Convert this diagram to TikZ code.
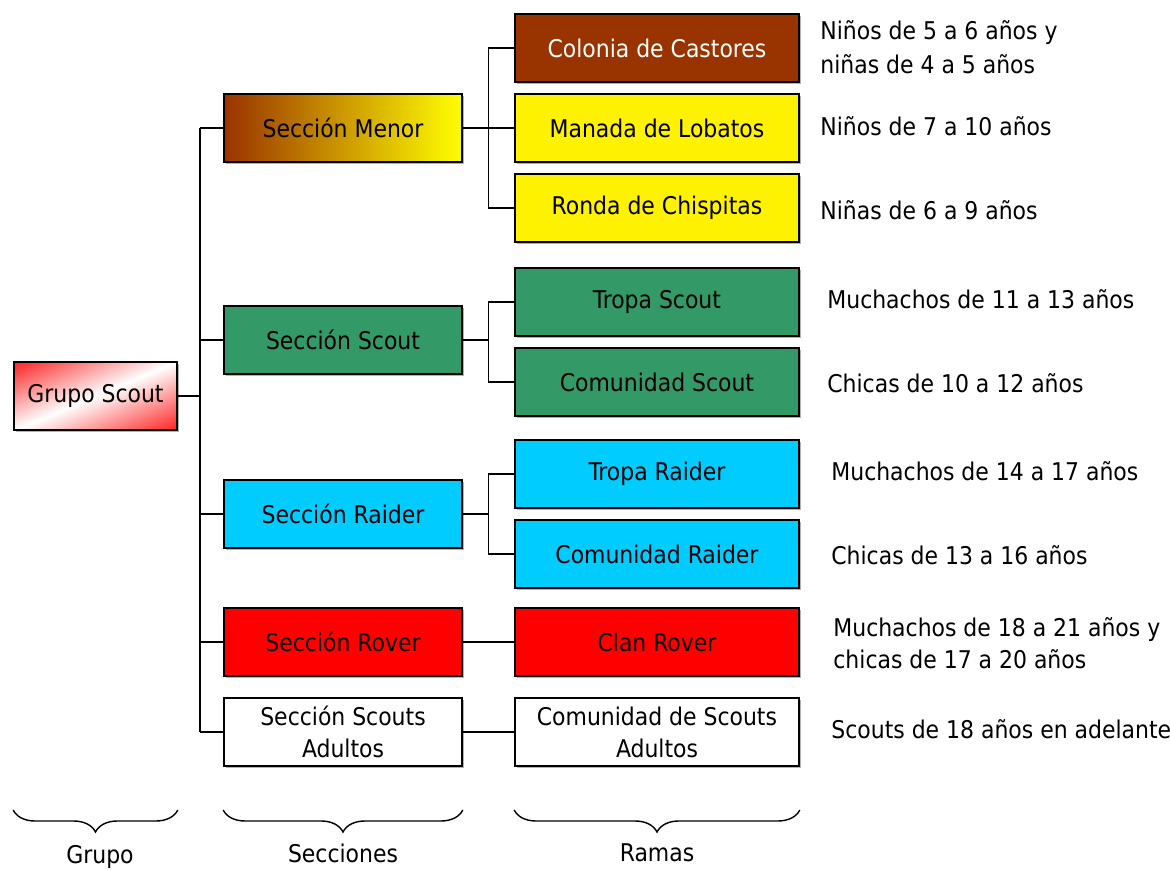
\documentclass[tikz,border=0pt]{standalone}
\usepackage{fontspec}
\setmainfont{DejaVu Sans Condensed}
\usetikzlibrary{positioning,calc,decorations.pathreplacing,shadows}

\definecolor{castor}{RGB}{153,51,0}
\definecolor{verde}{RGB}{51,153,102}
\definecolor{celeste}{RGB}{0,204,255}
\pgfdeclarehorizontalshading{grupofade}{100bp}{color(0bp)=(red); color(12bp)=(red); color(50bp)=(white); color(88bp)=(red); color(100bp)=(red)}

\tikzset{
  caja/.style={draw=black, line width=0.8pt, rectangle, minimum height=34pt, inner sep=2pt, align=center,
    drop shadow={shadow xshift=1pt, shadow yshift=-1pt, fill=gray!60, opacity=1}},
  seccion/.style={caja, minimum width=119pt},
  rama/.style={caja, minimum width=142pt},
  edad/.style={anchor=west, align=left, inner sep=0pt},
  linea/.style={line width=0.7pt},
  llave/.style={decorate, decoration={brace, mirror, amplitude=11pt}, line width=0.7pt},
}

\begin{document}
\begin{tikzpicture}[x=0.5pt, y=-0.5pt, font=\fontsize{12.2}{16}\selectfont]
        \useasboundingbox (0,0) rectangle (1170,870);

        % grupo
        \node[caja, minimum width=81.5pt, shading=grupofade, shading angle=-67] (grupo) at (95.5,396) {Grupo Scout};

        % secciones
        \node[seccion, left color=castor, right color=yellow] (menor) at (343,128) {Sección Menor};
        \node[seccion, fill=verde] (scout) at (343,340) {Sección Scout};
        \node[seccion, fill=celeste] (raider) at (343,514) {Sección Raider};
        \node[seccion, fill=red] (rover) at (343,642) {Sección Rover};
        \node[seccion, fill=white] (adultos) at (343,732) {Sección Scouts\\Adultos};

        % ramas
        \node[rama, fill=castor, text=white] (castores) at (657,48) {Colonia de Castores};
        \node[rama, fill=yellow] (lobatos) at (657,128) {Manada de Lobatos};
        \node[rama, fill=yellow] (chispitas) at (657,208) {Ronda de Chispitas};
        \node[rama, fill=verde] (tropascout) at (657,302) {Tropa Scout};
        \node[rama, fill=verde] (comscout) at (657,382) {Comunidad Scout};
        \node[rama, fill=celeste] (tropraider) at (657,474) {Tropa Raider};
        \node[rama, fill=celeste] (comraider) at (657,554) {Comunidad Raider};
        \node[rama, fill=red] (clan) at (657,642) {Clan Rover};
        \node[rama, fill=white] (comadultos) at (657,732) {Comunidad de Scouts\\Adultos};

        % edades
        \node[edad, font=\fontsize{12.2}{17}\selectfont] (ecastores) at (820,47) {Niños de 5 a 6 años y\\niñas de 4 a 5 años};
        \node[edad] (elobatos) at (820,126) {Niños de 7 a 10 años};
        \node[edad] (echispitas) at (820,210) {Niñas de 6 a 9 años};
        \node[edad] (etropascout) at (827,299) {Muchachos de 11 a 13 años};
        \node[edad] (ecomscout) at (827,383) {Chicas de 10 a 12 años};
        \node[edad] (etropraider) at (831,471) {Muchachos de 14 a 17 años};
        \node[edad] (ecomraider) at (831,555) {Chicas de 13 a 16 años};
        \node[edad] (eclan) at (833,643) {Muchachos de 18 a 21 años y\\chicas de 17 a 20 años};
        \node[edad] (ecomadultos) at (831,729) {Scouts de 18 años en adelante};

        % conectores
        \coordinate (ttop) at (200,128);
        \coordinate (tbot) at (200,732);
        \draw[linea] (grupo.east) -- (grupo -| ttop);
        \draw[linea] (ttop) -- (tbot);
        \foreach \s in {menor,scout,raider,rover,adultos}
                \draw[linea] (ttop |- \s) -- (\s.west);
        \foreach \s/\a/\b in {menor/castores/chispitas, scout/tropascout/comscout, raider/tropraider/comraider}{
                \coordinate (j\s) at ($(\s.east)!0.5!(\s.east -| \a.west)$);
                \draw[linea] (\s.east) -- (j\s);
                \draw[linea] (\a.west) -| (j\s) |- (\b.west);
        }
        \draw[linea] (jmenor) -- (lobatos.west);
        \draw[linea] (rover.east) -- (clan.west);
        \draw[linea] (adultos.east) -- (comadultos.west);

        % llaves
        \coordinate (llavey) at (0,810);
        \draw[llave] (grupo.west |- llavey) -- (grupo.east |- llavey);
        \draw[llave] (menor.west |- llavey) -- (menor.east |- llavey);
        \draw[llave] (castores.west |- llavey) -- (castores.east |- llavey);
        \node (lgrupo) at (100,857) {Grupo};
        \node (lsecciones) at (343,853) {Secciones};
        \node (lramas) at (657,853) {Ramas};

\end{tikzpicture}
\end{document}
